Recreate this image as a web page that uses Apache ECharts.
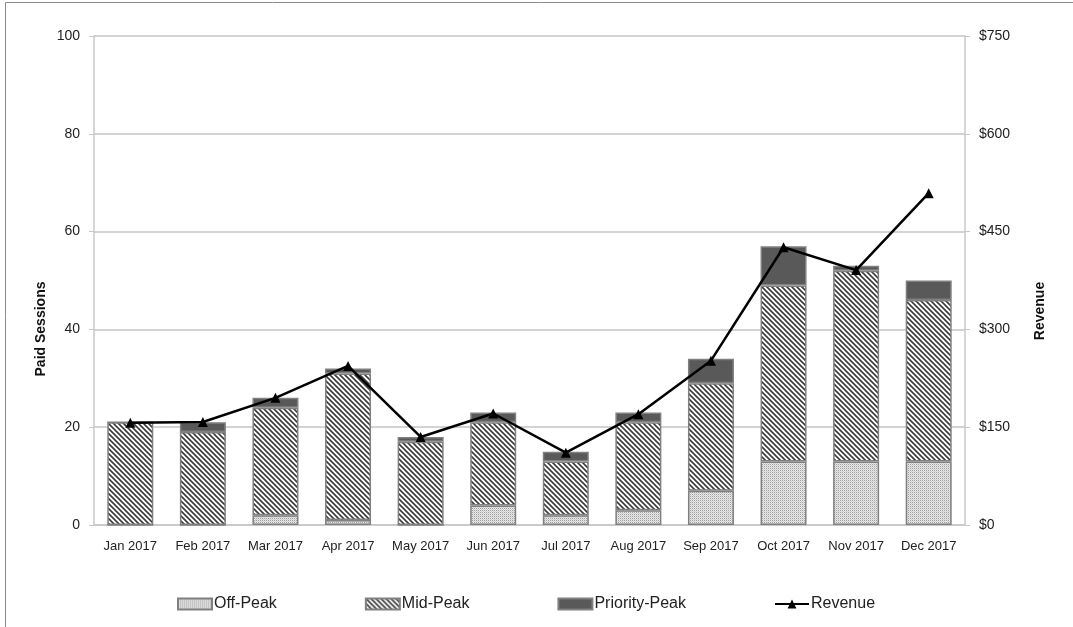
<!DOCTYPE html>
<html>
<head>
<meta charset="utf-8">
<script src="https://cdn.jsdelivr.net/npm/echarts@6/dist/echarts.min.js"></script>
<style>
  html, body { margin: 0; padding: 0; background: #ffffff; }
  #chart { width: 1073px; height: 627px; }
</style>
</head>
<body>
<div id="chart"></div>
<script>
// Monthly paid sessions by tariff band, plus monthly revenue
const months = ['Jan 2017', 'Feb 2017', 'Mar 2017', 'Apr 2017', 'May 2017', 'Jun 2017',
                'Jul 2017', 'Aug 2017', 'Sep 2017', 'Oct 2017', 'Nov 2017', 'Dec 2017'];
const offPeak      = [0, 0, 2, 1, 0, 4, 2, 3, 7, 13, 13, 13];
const midPeak      = [21, 19, 22, 30, 17, 17, 11, 18, 22, 36, 39, 33];
const priorityPeak = [0, 2, 2, 1, 1, 2, 2, 2, 5, 8, 1, 4];
const revenue      = [157, 158, 195, 244, 135, 171, 111, 170, 252, 426, 391, 509];

const sessionTicks = [0, 20, 40, 60, 80, 100];
const revenueTicks = [0, 150, 300, 450, 600, 750];

// Fine stipple fill for off-peak segments
function stipplePattern() {
  const c = document.createElement('canvas');
  c.width = 2; c.height = 2;
  const g = c.getContext('2d');
  g.fillStyle = '#e8e8e8'; g.fillRect(0, 0, 2, 2);
  g.fillStyle = '#a0a0a0'; g.fillRect(0, 0, 1, 1);
  g.fillStyle = '#cfcfcf'; g.fillRect(1, 1, 1, 1);
  return { image: c, repeat: 'repeat' };
}

// Downward diagonal hatch for mid-peak segments
function hatchPattern() {
  const p = 5;
  const c = document.createElement('canvas');
  c.width = p; c.height = p;
  const g = c.getContext('2d');
  g.fillStyle = '#ffffff'; g.fillRect(0, 0, p, p);
  g.strokeStyle = '#3a3a3a';
  g.lineWidth = 1.6;
  for (const k of [-p, 0, p]) {
    g.beginPath();
    g.moveTo(k - 1, -1);
    g.lineTo(k + p + 1, p + 1);
    g.stroke();
  }
  return { image: c, repeat: 'repeat' };
}

const font = '"Liberation Sans", Arial, sans-serif';
const barBorder = { borderColor: '#808080', borderWidth: 1.5 };

const chart = echarts.init(document.getElementById('chart'), null, { renderer: 'canvas' });

chart.setOption({
  animation: false,
  backgroundColor: '#ffffff',
  textStyle: { fontFamily: font },
  grid: { left: 94, right: 108, top: 36, bottom: 102, containLabel: false },
  legend: {
    bottom: 10,
    left: 172,
    itemWidth: 34,
    itemHeight: 11,
    itemGap: 88,
    textStyle: { fontSize: 16, color: '#222222', fontFamily: font, padding: [0, 0, 0, -3] },
    data: [
      { name: 'Off-Peak', icon: 'rect' },
      { name: 'Mid-Peak', icon: 'rect' },
      { name: 'Priority-Peak', icon: 'rect' },
      { name: 'Revenue' }
    ]
  },
  xAxis: {
    type: 'category',
    data: months,
    axisLine: { lineStyle: { color: '#c8c8c8', width: 1.5 } },
    axisTick: { show: false },
    axisLabel: { interval: 0, fontSize: 13, color: '#222222', margin: 15 }
  },
  yAxis: [
    {
      type: 'value',
      min: sessionTicks[0],
      max: sessionTicks[sessionTicks.length - 1],
      interval: 20,
      axisLine: { show: true, lineStyle: { color: '#c8c8c8', width: 1.5 } },
      axisTick: { show: true, length: 5, lineStyle: { color: '#c8c8c8' } },
      axisLabel: { fontSize: 14, color: '#222222', margin: 14 },
      splitLine: { lineStyle: { color: '#c4c4c4', width: 1.5 } }
    },
    {
      type: 'value',
      min: revenueTicks[0],
      max: revenueTicks[revenueTicks.length - 1],
      interval: 150,
      position: 'right',
      axisLine: { show: true, lineStyle: { color: '#c8c8c8', width: 1.5 } },
      axisTick: { show: true, length: 5, lineStyle: { color: '#c8c8c8' } },
      axisLabel: { fontSize: 14, color: '#222222', margin: 14, formatter: v => '$' + v },
      splitLine: { show: false }
    }
  ],
  series: [
    {
      name: 'Off-Peak', type: 'bar', stack: 'sessions', barWidth: 46,
      itemStyle: Object.assign({ color: stipplePattern() }, barBorder),
      data: offPeak
    },
    {
      name: 'Mid-Peak', type: 'bar', stack: 'sessions', barWidth: 46,
      itemStyle: Object.assign({ color: hatchPattern() }, barBorder),
      data: midPeak
    },
    {
      name: 'Priority-Peak', type: 'bar', stack: 'sessions', barWidth: 46,
      itemStyle: Object.assign({ color: '#595959' }, barBorder),
      data: priorityPeak
    },
    {
      name: 'Revenue', type: 'line', yAxisIndex: 1,
      symbol: 'triangle', symbolSize: 10,
      lineStyle: { color: '#000000', width: 2.5 },
      itemStyle: { color: '#000000' },
      data: revenue
    }
  ],
  graphic: [
    {
      type: 'rect', silent: true, z: -1,
      shape: { x: 5.5, y: 2.5, width: 1200, height: 800 },
      style: { fill: 'none', stroke: '#8a8a8a', lineWidth: 1 }
    },
    {
      type: 'text', x: 41, y: 329, rotation: Math.PI / 2,
      style: {
        text: 'Paid Sessions', font: 'bold 14px ' + font, fill: '#111111',
        align: 'center', verticalAlign: 'middle'
      }
    },
    {
      type: 'text', x: 1040, y: 311, rotation: Math.PI / 2,
      style: {
        text: 'Revenue', font: 'bold 14px ' + font, fill: '#111111',
        align: 'center', verticalAlign: 'middle'
      }
    }
  ]
});
</script>
</body>
</html>
